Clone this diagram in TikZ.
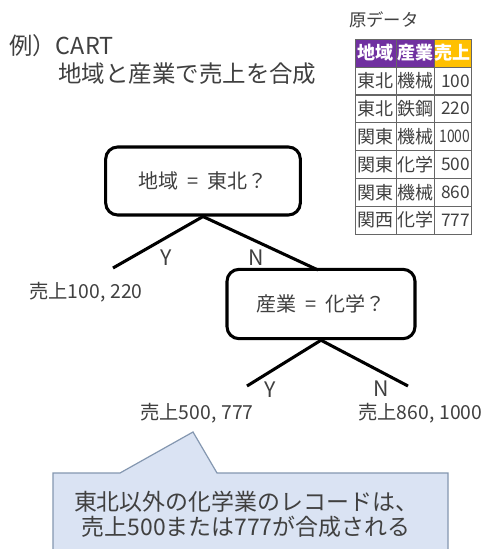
\documentclass[tikz,border=0pt]{standalone}
\usepackage{fontspec}
\usepackage{graphicx}
\setmainfont{Noto Sans CJK JP}
\newfontfamily\jp{Noto Sans CJK JP}
\definecolor{txt}{HTML}{404040}
\definecolor{hdrpurple}{HTML}{7030A0}
\definecolor{hdrorange}{HTML}{FFC000}
\definecolor{callfill}{HTML}{DAE3F3}
\definecolor{callline}{HTML}{8497B0}
\newcommand{\eqsp}{\hspace{0.45em}=\hspace{0.45em}}
\begin{document}
\begin{tikzpicture}[x=0.75pt,y=-0.75pt,
  every node/.style={text=txt,inner sep=0pt,font=\jp},
  decision/.style={draw=black,line width=2.3pt,rounded corners=9pt,minimum width=#1},
  branch/.style={draw=black,line width=2.3pt},
  leaf/.style={font=\jp\fontsize{14.5}{17}\selectfont},
  yn/.style={font=\jp\fontsize{16}{18}\selectfont},
  cell/.style={draw=txt!80,line width=0.6pt,minimum height=20.9pt,font=\jp\fontsize{13.5}{15}\selectfont},
  numcell/.style={cell,font=\jp\fontsize{13}{15}\selectfont,align=right,text width=26.5pt},
  hdr/.style={cell,text=white,font=\jp\bfseries\fontsize{13.5}{15}\selectfont}
]
\useasboundingbox (0,0) rectangle (491,549);
\clip (0,0) rectangle (491,549);
\fill[white] (0,0) rectangle (491,549);

% title
\node[anchor=west,font=\jp\fontsize{17.5}{20}\selectfont] (t1) at (9,46) {例）CART};
\node[anchor=west,font=\jp\fontsize{17.6}{20}\selectfont] (t2) at (58,74) {地域と産業で売上を合成};

% table
\node[anchor=west,font=\jp\fontsize{13}{15}\selectfont] (tcap) at (349,20) {原データ};
\node[hdr,fill=hdrpurple,minimum width=30.75pt] (h1) at (375.5,53) {地域};
\node[hdr,fill=hdrpurple,minimum width=28.5pt] (h2) at (415,53) {産業};
\node[hdr,fill=hdrorange,minimum width=27.75pt] (h3) at (452.5,53) {売上};
\foreach \i/\a/\b/\c in {0/東北/機械/100,1/東北/鉄鋼/220,2/関東/機械/\scalebox{0.8}[1]{1000},3/関東/化学/500,4/関東/機械/860,5/関西/化学/777}{
  \node[cell,minimum width=30.75pt] (r\i a) at (375.5,{81+27.8*\i}) {\a};
  \node[cell,minimum width=28.5pt] (r\i b) at (415,{81+27.8*\i}) {\b};
  \node[numcell,minimum width=27.75pt] (r\i c) at (452.5,{81+27.8*\i}) {\hfill\c};
}

% tree
\node[decision=146pt,minimum height=51pt,font=\jp\fontsize{15}{18}\selectfont] (d1) at (203,181) {地域\eqsp 東北？};
\node[decision=141pt,minimum height=52pt,font=\jp\fontsize{15}{18}\selectfont] (d2) at (321,304) {産業\eqsp 化学？};
\coordinate (l1) at (113,268);
\coordinate (r1) at (318,270);
\coordinate (l2) at (247,386);
\coordinate (l3) at (408,386);
\draw[branch] (d1.south) -- (l1);
\draw[branch] (d1.south) -- (r1);
\draw[branch] (d2.south) -- (l2);
\draw[branch] (d2.south) -- (l3);
\node[yn] (y1) at (166,258) {Y};
\node[yn] (n1) at (256,258) {N};
\node[yn] (y2) at (270,390) {Y};
\node[yn] (n2) at (381,389) {N};
\node[leaf,anchor=west] (s1) at (29,292) {売上100,\hspace{0.25em}220};
\node[leaf,anchor=west] (s2) at (140,413) {売上500,\hspace{0.25em}777};
\node[leaf,anchor=west] (s3) at (358,413) {売上860,\hspace{0.25em}1000};

% callout
\coordinate (tip) at (193,432);
\draw[fill=callfill,draw=callline,line width=0.9pt]
  (53,473) -- (120,473) -- (tip) -- (217,473) -- (448,473) -- (448,560) -- (53,560) -- cycle;
\node[align=center,font=\jp\fontsize{17.2}{19}\selectfont] (note) at (246,514)
  {東北以外の化学業のレコードは、\\売上500または777が合成される};
\end{tikzpicture}
\end{document}
